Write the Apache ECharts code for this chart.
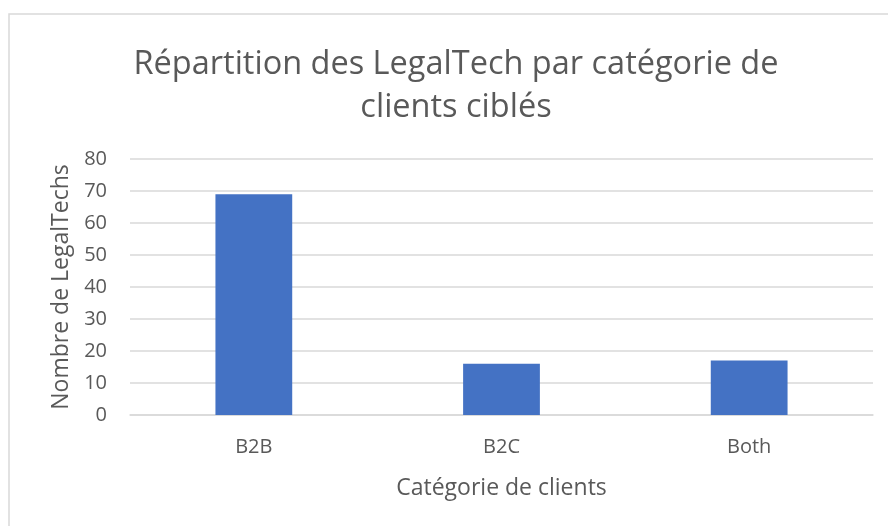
<!DOCTYPE html>
<html><head><meta charset="utf-8">
<script src="https://cdn.jsdelivr.net/npm/echarts@6/dist/echarts.min.js"></script>
<style>html,body{margin:0;padding:0;background:#fff}#c{width:888px;height:526px}</style>
</head><body><div id="c"></div>
<script>
var titleText = "Répartition des LegalTech par catégorie de\nclients ciblés";
var categories = ["B2B", "B2C", "Both"];
var values = [69, 16, 17];
var yTicks = [0, 10, 20, 30, 40, 50, 60, 70, 80];
var xAxisName = "Catégorie de clients";
var yAxisName = "Nombre de LegalTechs";

var font = "'Open Sans', 'Noto Sans', sans-serif";
var chart = echarts.init(document.getElementById('c'));
chart.setOption({
  animation: false,
  backgroundColor: '#fff',
  graphic: [{type: 'rect', shape: {x: 9, y: 14, width: 900, height: 540}, style: {fill: 'none', stroke: '#d9d9d9', lineWidth: 1.5}, silent: true}],
  title: {
    text: titleText, left: 451, top: 38, padding: 5, textAlign: 'center',
    textStyle: {fontFamily: font, fontSize: 32.5, fontWeight: 'normal', color: '#595959', lineHeight: 43}
  },
  grid: {left: 130, right: 15, top: 159, bottom: 111, containLabel: false},
  xAxis: {
    type: 'category', data: categories,
    name: xAxisName, nameLocation: 'middle', nameGap: 62,
    nameTextStyle: {fontFamily: font, fontSize: 23, color: '#595959'},
    axisLine: {show: true, lineStyle: {color: '#d9d9d9', width: 1.5}},
    axisTick: {show: false},
    axisLabel: {fontFamily: font, fontSize: 20, color: '#595959', margin: 22}
  },
  yAxis: {
    type: 'value', min: yTicks[0], max: yTicks[yTicks.length - 1], interval: 10,
    name: yAxisName, nameLocation: 'middle', nameGap: 56,
    nameTextStyle: {fontFamily: font, fontSize: 23, color: '#595959'},
    axisLine: {show: false}, axisTick: {show: false},
    axisLabel: {fontFamily: font, fontSize: 20, color: '#595959', margin: 23},
    splitLine: {lineStyle: {color: '#d9d9d9', width: 1.5}}
  },
  series: [{
    type: 'bar', data: values, barWidth: '31%',
    itemStyle: {color: '#4472C4'}
  }]
});
</script></body></html>
